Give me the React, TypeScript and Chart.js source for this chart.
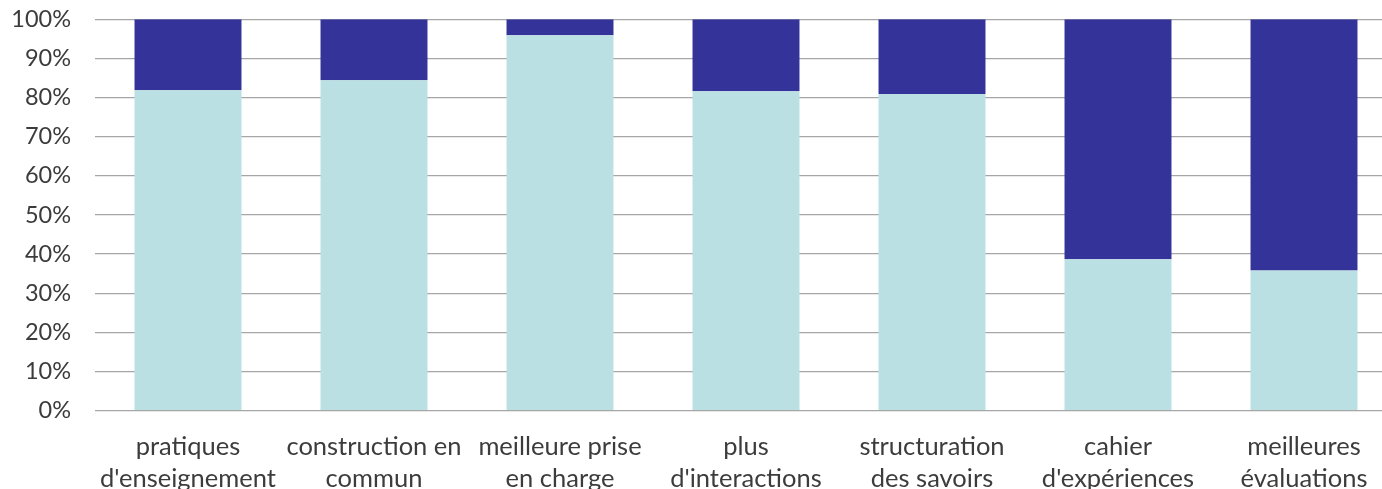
import React, { useEffect, useRef } from "react";
import { Chart, registerables } from "chart.js";

Chart.register(...registerables);

const categories: string[][] = [
  ["pratiques", "d'enseignement"],
  ["construction en", "commun"],
  ["meilleure prise", "en charge"],
  ["plus", "d'interactions"],
  ["structuration", "des savoirs"],
  ["cahier", "d'expériences"],
  ["meilleures", "évaluations"],
];

const lightValues: number[] = [81.9, 84.4, 95.9, 81.6, 80.9, 38.7, 35.8];
const darkValues: number[] = [18.1, 15.6, 4.1, 18.4, 19.1, 61.3, 64.2];

const yTicks: number[] = [0, 10, 20, 30, 40, 50, 60, 70, 80, 90, 100];

const LIGHT = "#BAE0E3";
const DARK = "#333399";
const TEXT = "#3c3c3c";
const FONT = "Lato";

export default function App() {
  const ref = useRef<HTMLCanvasElement | null>(null);

  useEffect(() => {
    if (!ref.current) return;
    const chart = new Chart(ref.current, {
      type: "bar",
      data: {
        labels: categories,
        datasets: [
          {
            label: "a",
            data: lightValues,
            backgroundColor: LIGHT,
            barPercentage: 0.575,
            categoryPercentage: 1,
          },
          {
            label: "b",
            data: darkValues,
            backgroundColor: DARK,
            barPercentage: 0.575,
            categoryPercentage: 1,
          },
        ],
      },
      options: {
        animation: false,
        responsive: true,
        maintainAspectRatio: false,
        layout: { padding: { top: 19.3, left: 0, right: 0, bottom: 0 } },
        plugins: {
          legend: { display: false },
          tooltip: { enabled: false },
        },
        scales: {
          x: {
            stacked: true,
            grid: { display: false, drawTicks: false },
            border: { display: false },
            ticks: {
              color: TEXT,
              font: { family: FONT, size: 25.5, lineHeight: 1.25 },
              padding: 20,
              maxRotation: 0,
              autoSkip: false,
            },
            afterFit: (scale: any) => {
              scale.height = 78.3;
              scale.paddingLeft = 0;
              scale.paddingRight = 0;
            },
          },
          y: {
            stacked: true,
            min: 0,
            max: 100,
            afterBuildTicks: (scale: any) => {
              scale.ticks = yTicks.map((v) => ({ value: v }));
            },
            grid: { color: "#a6a6a6", lineWidth: 1.3, drawTicks: false },
            border: { display: false },
            ticks: {
              color: TEXT,
              font: { family: FONT, size: 23.5 },
              padding: 24,
              callback: (v: any) => v + "%",
            },
            afterFit: (scale: any) => {
              scale.width = 95;
              scale.paddingTop = 0;
              scale.paddingBottom = 0;
            },
          },
        },
      },
    });
    return () => chart.destroy();
  }, []);

  return (
    <div
      style={{
        position: "absolute",
        left: 0,
        top: 0,
        width: 1382,
        height: 489,
        overflow: "hidden",
        background: "#fff",
      }}
    >
      <div style={{ position: "relative", width: 1397, height: 489 }}>
        <canvas ref={ref} />
      </div>
    </div>
  );
}
